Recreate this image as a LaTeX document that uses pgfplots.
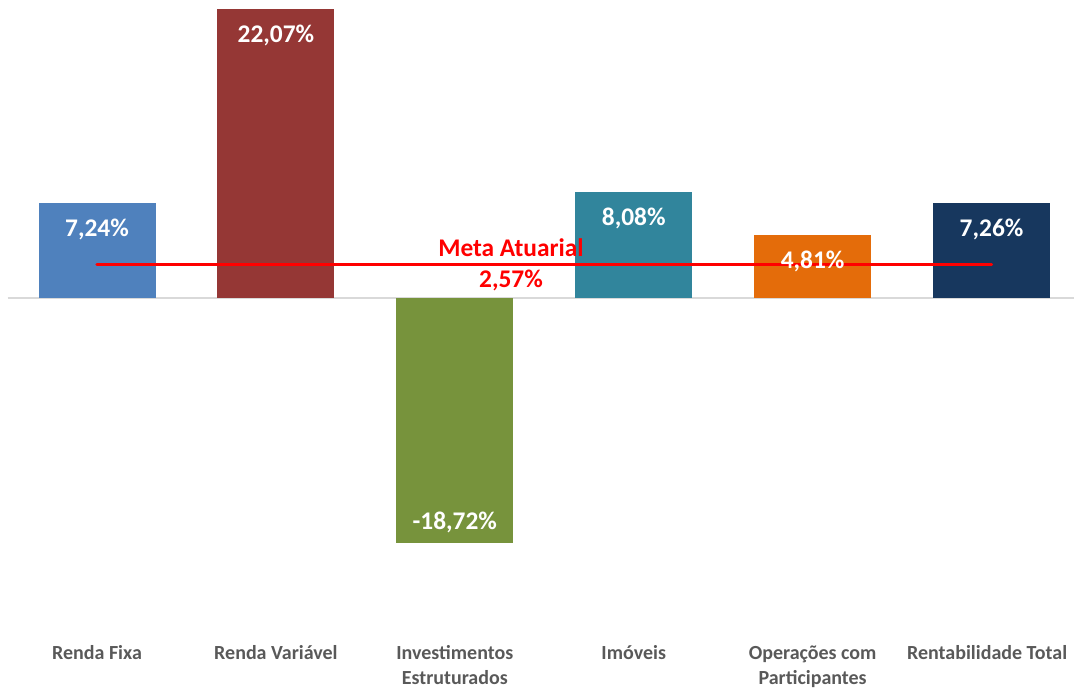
\documentclass[border=0pt]{standalone}
\usepackage{pgfplots}
\pgfplotsset{compat=1.18}
\usepackage{fontspec}
\setmainfont{Carlito}
\definecolor{cRF}{HTML}{4F81BD}
\definecolor{cRV}{HTML}{953735}
\definecolor{cIE}{HTML}{77933C}
\definecolor{cIM}{HTML}{31859C}
\definecolor{cOP}{HTML}{E46C0A}
\definecolor{cRT}{HTML}{17375E}
\definecolor{cLbl}{HTML}{595959}
\definecolor{cZero}{HTML}{D9D9D9}
\begin{document}
\begin{tikzpicture}
\begin{axis}[
  at={(0,0)}, anchor=south west,
  scale only axis, width=537pt, height=344.5pt,
  xmin=-0.5422, xmax=5.461, ymin=-29.858, ymax=22.757,
  axis lines=none, ticks=none, clip=false,
  ybar, bar shift=0pt, bar width=58.5pt,
]
\draw[cZero, line width=0.8pt] (axis cs:-0.5,0) -- (axis cs:5.461,0);
\addplot[fill=cRF, draw=none, bar shift=0pt] coordinates {(0,7.24)};
\addplot[fill=cRV, draw=none, bar shift=0pt] coordinates {(1,22.07)};
\addplot[fill=cIE, draw=none, bar shift=0pt] coordinates {(2,-18.72)};
\addplot[fill=cIM, draw=none, bar shift=0pt] coordinates {(3,8.08)};
\addplot[fill=cOP, draw=none, bar shift=0pt] coordinates {(4,4.81)};
\addplot[fill=cRT, draw=none, bar shift=0pt] coordinates {(5,7.26)};
% Meta atuarial line
\addplot[sharp plot, red, line width=1.6pt, line cap=round, mark=none] coordinates {(0,2.57) (5,2.57)};
% value labels (positive)
\addplot[draw=none, fill=none, bar shift=0pt,
  point meta=explicit symbolic,
  nodes near coords,
  every node near coord/.append style={anchor=base, yshift=-16.6pt, text=white,
     font=\bfseries\fontsize{12.7}{15}\selectfont}]
  coordinates {(0,7.24) [7,24\%] (1,22.07) [22,07\%] (3,8.08) [8,08\%] (4,4.81) [4,81\%] (5,7.26) [7,26\%]};
% value label (negative)
\addplot[draw=none, fill=none, bar shift=0pt,
  point meta=explicit symbolic,
  nodes near coords,
  every node near coord/.append style={anchor=base, yshift=7pt, text=white,
     font=\bfseries\fontsize{12.7}{15}\selectfont}]
  coordinates {(2,-18.72) [-18,72\%]};
% Meta atuarial text
\node[anchor=base, text=red, font=\bfseries\fontsize{12.7}{15}\selectfont, inner sep=0pt]
  at (axis cs:2.314,2.57) [yshift=4pt] {Meta Atuarial};
\node[anchor=base, text=red, font=\bfseries\fontsize{12.7}{15}\selectfont, inner sep=0pt]
  at (axis cs:2.314,2.57) [yshift=-11.8pt] {2,57\%};
% category labels
\tikzset{cat/.style={anchor=base, text=cLbl, font=\bfseries\fontsize{10}{12}\selectfont, inner sep=0pt}}
\node[cat] at (axis cs:0,-27.64) {Renda Fixa};
\node[cat] at (axis cs:1,-27.64) {Renda Variável};
\node[cat] at (axis cs:2,-27.64) {Investimentos};
\node[cat] at (axis cs:2,-29.50) {Estruturados};
\node[cat] at (axis cs:3,-27.64) {Imóveis};
\node[cat] at (axis cs:4,-27.64) {Operações com};
\node[cat] at (axis cs:4,-29.50) {Participantes};
\node[cat] at (axis cs:4.975,-27.64) {Rentabilidade Total};
\end{axis}
\pgfresetboundingbox
\path[use as bounding box] (0,0) rectangle (537pt,344.5pt);
\end{tikzpicture}
\end{document}
